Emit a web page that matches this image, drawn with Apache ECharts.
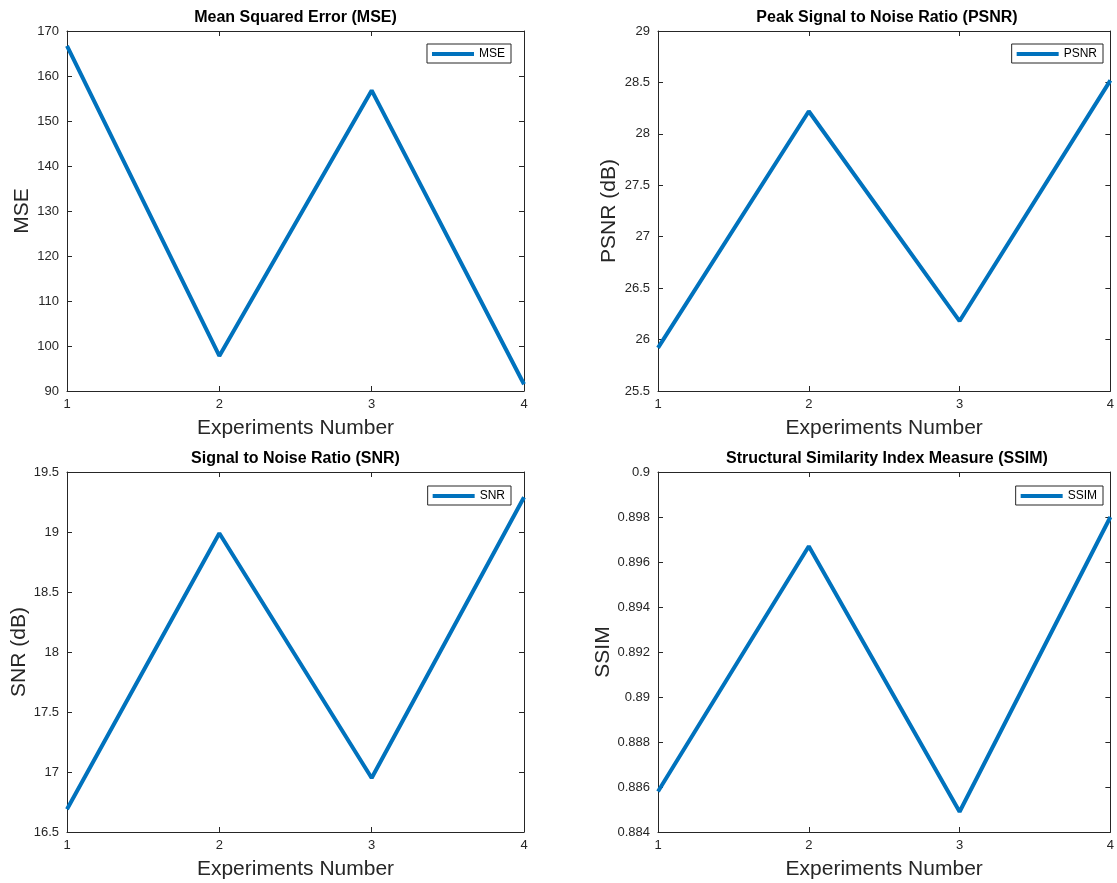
<!DOCTYPE html>
<html>
<head>
<meta charset="utf-8">
<script src="https://cdn.jsdelivr.net/npm/echarts@6/dist/echarts.min.js"></script>
<style>html,body{margin:0;padding:0;background:#fff;overflow:hidden;}#c{width:1117px;height:883px;}</style>
</head>
<body>
<div id="c"></div>
<script>
var experiments = [1, 2, 3, 4];
var mseValues = [166.7, 97.8, 156.8, 91.5];
var psnrValues = [25.92, 28.22, 26.18, 28.52];
var snrValues = [16.69, 18.99, 16.95, 19.29];
var ssimValues = [0.8858, 0.8967, 0.8849, 0.8980];

var titles = ['Mean Squared Error (MSE)', 'Peak Signal to Noise Ratio (PSNR)', 'Signal to Noise Ratio (SNR)', 'Structural Similarity Index Measure (SSIM)'];
var seriesNames = ['MSE', 'PSNR', 'SNR', 'SSIM'];
var yNames = ['MSE', 'PSNR (dB)', 'SNR (dB)', 'SSIM'];
var xName = 'Experiments Number';
var yMin = [90, 25.5, 16.5, 0.884];
var yMax = [170, 29, 19.5, 0.9];
var yInterval = [10, 0.5, 0.5, 0.002];
var allValues = [mseValues, psnrValues, snrValues, ssimValues];

var FONT = 'Liberation Sans, Arial, Helvetica, sans-serif';
var AX = '#262626';
var grids = [
  {left: 67, top: 31, width: 457, height: 360},
  {left: 658, top: 31, width: 458, height: 360},
  {left: 67, top: 472, width: 457, height: 360},
  {left: 658, top: 472, width: 458, height: 360}
];
var legendRight = [606, 14, 606, 14];
var legendTop = [44, 44, 486, 486];

var option = {backgroundColor: '#fff', animation: false, title: [], grid: [], xAxis: [], yAxis: [], legend: [], series: []};

function fmt(v) { return String(parseFloat(v.toFixed(4))); }

for (var i = 0; i < 4; i++) {
  var g = grids[i];
  option.grid.push({left: g.left, top: g.top, width: g.width, height: g.height, containLabel: false});
  option.title.push({
    text: titles[i], left: g.left + g.width / 2, top: g.top - 21, textAlign: 'center', padding: 0,
    textStyle: {fontFamily: FONT, fontSize: 16, fontWeight: 'bold', color: '#000'}
  });
  var axLine = {show: true, lineStyle: {color: AX, width: 1}};
  var tick = {show: true, inside: true, length: 5, lineStyle: {color: AX, width: 1}};
  option.xAxis.push({
    type: 'value', gridIndex: i, min: 1, max: 4, interval: 1, position: 'bottom',
    name: xName, nameLocation: 'middle', nameGap: 27,
    nameTextStyle: {fontFamily: FONT, fontSize: 21, color: AX},
    axisLine: axLine, axisTick: tick, splitLine: {show: false},
    axisLabel: {fontFamily: FONT, fontSize: 13, color: AX, margin: 7, formatter: fmt}
  });
  option.xAxis.push({
    type: 'value', gridIndex: i, min: 1, max: 4, interval: 1, position: 'top',
    axisLine: axLine, axisTick: tick, splitLine: {show: false}, axisLabel: {show: false}
  });
  option.yAxis.push({
    type: 'value', gridIndex: i, min: yMin[i], max: yMax[i], interval: yInterval[i], position: 'left',
    name: yNames[i], nameLocation: 'middle', nameGap: (i % 2 === 0 ? 34 : 38), nameRotate: 90,
    nameTextStyle: {fontFamily: FONT, fontSize: 21, color: AX},
    axisLine: axLine, axisTick: tick, splitLine: {show: false},
    axisLabel: {fontFamily: FONT, fontSize: 13, color: AX, margin: 8, formatter: fmt}
  });
  option.yAxis.push({
    type: 'value', gridIndex: i, min: yMin[i], max: yMax[i], interval: yInterval[i], position: 'right',
    axisLine: axLine, axisTick: tick, splitLine: {show: false}, axisLabel: {show: false}
  });
  var data = experiments.map(function (x, k) { return [x, allValues[i][k]]; });
  option.series.push({
    name: seriesNames[i], type: 'line', xAxisIndex: 2 * i, yAxisIndex: 2 * i,
    data: data, showSymbol: false, symbol: 'none', color: '#0072BD',
    lineStyle: {color: '#0072BD', width: 4}, clip: false
  });
  option.legend.push({
    data: [seriesNames[i]], right: legendRight[i], top: legendTop[i], orient: 'vertical',
    icon: 'rect', itemWidth: 42, itemHeight: 4, itemGap: 0,
    padding: [4, 6, 3, 5], borderColor: AX, borderWidth: 1, backgroundColor: '#fff',
    textStyle: {fontFamily: FONT, fontSize: 12, color: '#000'},
    itemStyle: {color: '#0072BD'}, selectedMode: false
  });
}

var chart = echarts.init(document.getElementById('c'), null, {renderer: 'canvas'});
chart.setOption(option);
</script>
</body>
</html>
